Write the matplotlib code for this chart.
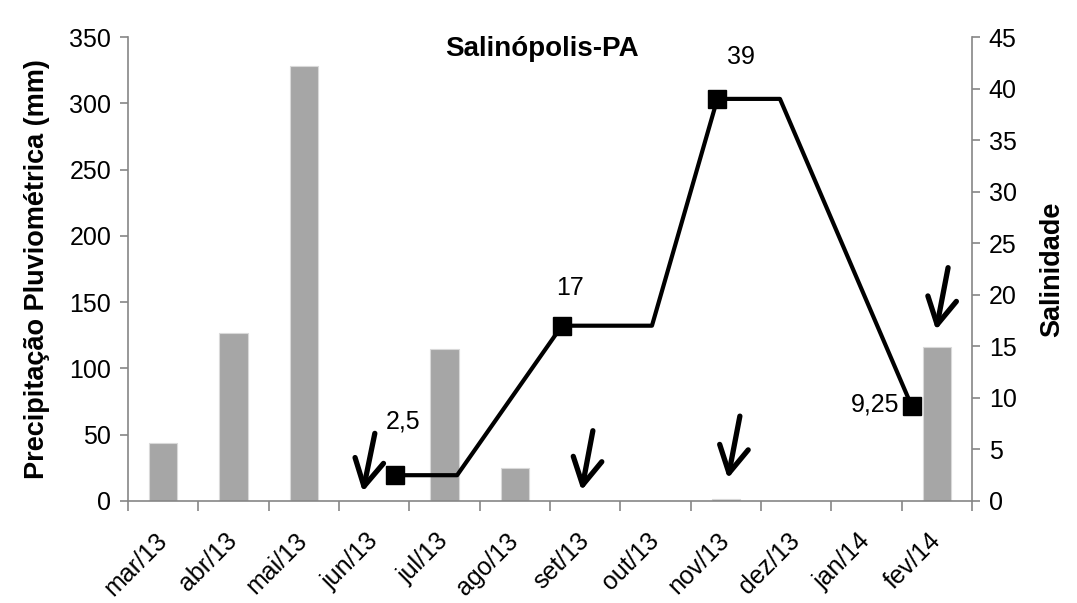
import matplotlib
matplotlib.use("Agg")
import matplotlib.pyplot as plt
import numpy as np

plt.rcParams['font.family'] = ['Liberation Sans', 'DejaVu Sans']

meses = ["mar/13", "abr/13", "mai/13", "jun/13", "jul/13", "ago/13",
         "set/13", "out/13", "nov/13", "dez/13", "jan/14", "fev/14"]
precipitacao = [43.5, 127, 328.5, 0, 115, 24.5, 0, 0, 1.5, 0, 0, 116.5]

# coletas de salinidade (posicao em meses a partir de mar/13)
sal_pos = [3.30, 4.18, 5.67, 6.95, 7.88, 8.77, 10.64]
salinidade = [2.5, 2.5, 17, 17, 39, 39, 9.25]
sal_marcador = [0, 2, 4, 6]
sal_rotulos = ["2,5", "17", "39", "9,25"]
rotulo_offset = [(6, 39), (6, 27), (17, 30), (-26, 1)]

# setas (cabeca, cauda) no eixo da precipitacao
setas = [((2.84, 7), (3.01, 51)),
         ((5.95, 8), (6.11, 53)),
         ((8.03, 17), (8.20, 64)),
         ((10.99, 129), (11.16, 176))]

cinza = "#868686"

fig = plt.figure(figsize=(10.77, 6.03), dpi=100)
ax = fig.add_axes([0.1188, 0.1692, 0.7837, 0.7694])
x = np.arange(len(meses))
ax.bar(x, precipitacao, width=0.4, color="#a6a6a6", edgecolor="#d9d9d9", linewidth=0.8, zorder=2)

ax.set_xlim(-0.5, len(meses) - 0.5)
ax.set_ylim(0, 350)
ax.set_yticks(np.arange(0, 351, 50))
ax.set_xticks(np.arange(-0.5, len(meses), 1.0))
ax.set_xticklabels([])
ax.set_xticks(x, minor=True)
ax.set_xticklabels(meses, minor=True, rotation=45, ha="right", va="center",
                   rotation_mode="anchor", fontsize=18)
ax.tick_params(axis="x", which="minor", length=0, pad=26)
ax.tick_params(axis="x", which="major", length=7, width=1.2, color=cinza)
ax.tick_params(axis="y", length=6, width=1.2, color=cinza, labelsize=18, pad=6)
ax.set_ylabel("Precipitação Pluviométrica (mm)", fontsize=19.5, fontweight="bold", labelpad=14)
for lado in ["top", "right"]:
    ax.spines[lado].set_visible(False)
for lado in ["left", "bottom"]:
    ax.spines[lado].set_color(cinza)
    ax.spines[lado].set_linewidth(1.2)

ax2 = ax.twinx()
ax2.set_ylim(0, 45)
ax2.set_yticks(np.arange(0, 46, 5))
ax2.plot(sal_pos, salinidade, color="black", lw=3, zorder=3)
ax2.plot([sal_pos[i] for i in sal_marcador], [salinidade[i] for i in sal_marcador],
         ls="none", marker="s", ms=13, color="black", zorder=4)
for i, txt, off in zip(sal_marcador, sal_rotulos, rotulo_offset):
    ax2.annotate(txt, (sal_pos[i], salinidade[i]), xytext=off, textcoords="offset points",
                 ha="center", va="center", fontsize=18)
ax2.tick_params(axis="y", length=6, width=1.2, color=cinza, labelsize=18, pad=6)
ax2.set_ylabel("Salinidade", fontsize=19.5, fontweight="bold", labelpad=16)
ax2.spines["top"].set_visible(False)
ax2.spines["left"].set_visible(False)
ax2.spines["bottom"].set_visible(False)
ax2.spines["right"].set_color(cinza)
ax2.spines["right"].set_linewidth(1.2)

for cabeca, cauda in setas:
    ax.annotate("", xy=cabeca, xytext=cauda,
                arrowprops=dict(arrowstyle="->, head_length=1.0, head_width=0.55",
                                mutation_scale=19, lw=3.8, color="black",
                                shrinkA=0, shrinkB=0), zorder=5)

ax.set_title("Salinópolis-PA", fontsize=20, fontweight="bold", pad=-14, x=0.49, y=1.0)

fig.savefig("out.png", dpi=100)
